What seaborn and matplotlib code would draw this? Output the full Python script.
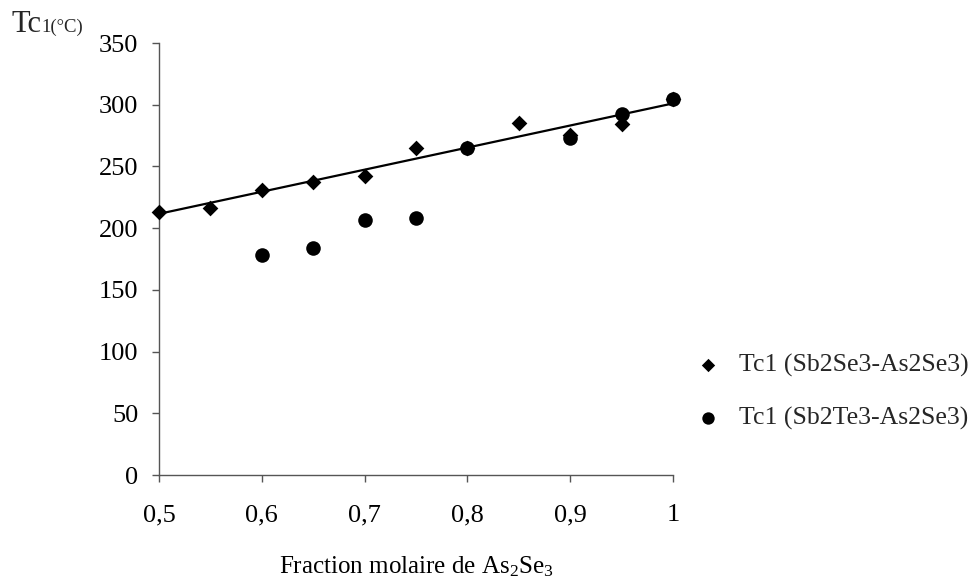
import matplotlib
matplotlib.use("Agg")
import matplotlib.pyplot as plt
import seaborn as sns
import numpy as np
import pandas as pd

# Data
x_sbse = [0.5, 0.55, 0.6, 0.65, 0.7, 0.75, 0.8, 0.85, 0.9, 0.95, 1.0]
y_sbse = [213, 216.5, 230.5, 237.5, 242, 265, 265, 285.5, 275.5, 284, 305]
x_sbte = [0.6, 0.65, 0.7, 0.75, 0.8, 0.9, 0.95, 1.0]
y_sbte = [178, 184, 207, 208.5, 265, 273, 292.5, 305]
label_sbse = "Tc1 (Sb2Se3-As2Se3)"
label_sbte = "Tc1 (Sb2Te3-As2Se3)"
x_ticks = [0.5, 0.6, 0.7, 0.8, 0.9, 1.0]
x_ticklabels = ["0,5", "0,6", "0,7", "0,8", "0,9", "1"]
y_ticks = [0, 50, 100, 150, 200, 250, 300, 350]

sns.set_theme(style="white")
plt.rcParams['font.family'] = ['Liberation Serif', 'DejaVu Serif']
plt.rcParams['mathtext.fontset'] = 'custom'
plt.rcParams['mathtext.rm'] = 'Liberation Serif'
plt.rcParams['mathtext.it'] = 'Liberation Serif:italic'
plt.rcParams['mathtext.default'] = 'regular'

W, H = 972, 578
fig = plt.figure(figsize=(W / 100, H / 100), dpi=100)
ax = fig.add_axes([159 / W, 1 - 475 / H, (673 - 159) / W, (475 - 43) / H])

df1 = pd.DataFrame({"x": x_sbse, "y": y_sbse})
df2 = pd.DataFrame({"x": x_sbte, "y": y_sbte})

sns.regplot(data=df1, x="x", y="y", ax=ax, scatter=False, ci=None, truncate=True,
            line_kws=dict(color="black", lw=1.6))
sns.scatterplot(data=df1, x="x", y="y", ax=ax, marker="D", s=64, color="black",
                edgecolor="black", linewidth=0, label=label_sbse, zorder=3,
                clip_on=False)
sns.scatterplot(data=df2, x="x", y="y", ax=ax, marker="o", s=110, color="black",
                edgecolor="black", linewidth=0, label=label_sbte, zorder=3,
                clip_on=False)

ax.set_xlim(0.5, 1.0)
ax.set_ylim(0, 350)
ax.set_xticks(x_ticks)
ax.set_xticklabels(x_ticklabels)
ax.set_yticks(y_ticks)
ax.set_xlabel("Fraction molaire de As$_2$Se$_3$", fontsize=18, labelpad=20, color="black")
ax.set_ylabel("")

for s in ["top", "right"]:
    ax.spines[s].set_visible(False)
for s in ["left", "bottom"]:
    ax.spines[s].set_color("#555555")
    ax.spines[s].set_linewidth(1.0)
ax.tick_params(axis="both", which="both", direction="out", length=5, width=1,
               color="#555555", labelsize=19, labelcolor="black",
               bottom=True, left=True)
ax.tick_params(axis="x", pad=16)
ax.tick_params(axis="y", pad=10)

fig.text(11 / W, 1 - 32 / H, "Tc", fontsize=22, va="baseline", ha="left")
fig.text(41 / W, 1 - 32 / H, "1(°C)", fontsize=13.5, va="baseline", ha="left")

leg = ax.legend(loc="center left", bbox_to_anchor=(682 / W, 1 - 392 / H),
                bbox_transform=fig.transFigure, frameon=False, fontsize=18.5,
                markerscale=0.85, handletextpad=0.72, labelspacing=1.15,
                handlelength=1.0, borderpad=0)

fig.savefig("out.png", dpi=100)
